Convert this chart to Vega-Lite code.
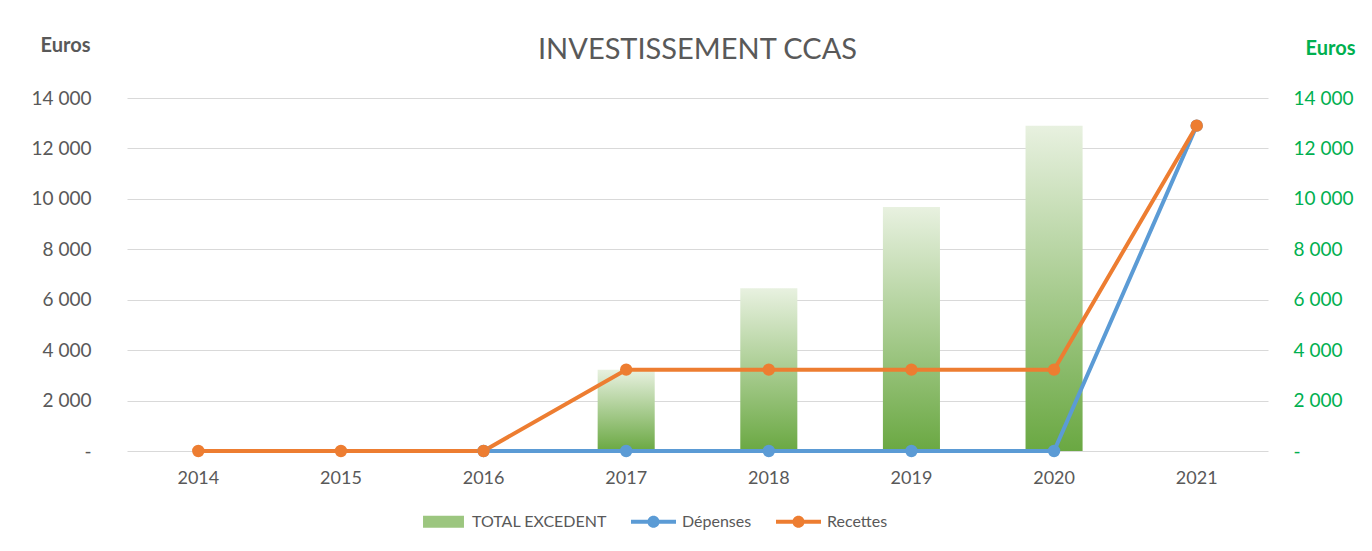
{
  "$schema": "https://vega.github.io/schema/vega-lite/v6.json",
  "width": 1141,
  "height": 353,
  "autosize": {"type": "none"},
  "padding": {"left": 127, "top": 98, "right": 104, "bottom": 100},
  "background": "white",
  "title": {"text": "INVESTISSEMENT CCAS", "font": "Lato", "fontSize": 29, "fontWeight": "normal", "color": "#595959", "baseline": "alphabetic", "offset": -53, "anchor": "middle"},
  "data": {"values": [
    {"year": "2017", "series": "TOTAL EXCEDENT", "value": 3226},
    {"year": "2018", "series": "TOTAL EXCEDENT", "value": 6452},
    {"year": "2019", "series": "TOTAL EXCEDENT", "value": 9678},
    {"year": "2020", "series": "TOTAL EXCEDENT", "value": 12904},
    {"year": "2016", "series": "Dépenses", "value": 0},
    {"year": "2017", "series": "Dépenses", "value": 0},
    {"year": "2018", "series": "Dépenses", "value": 0},
    {"year": "2019", "series": "Dépenses", "value": 0},
    {"year": "2020", "series": "Dépenses", "value": 0},
    {"year": "2021", "series": "Dépenses", "value": 12904},
    {"year": "2014", "series": "Recettes", "value": 0},
    {"year": "2015", "series": "Recettes", "value": 0},
    {"year": "2016", "series": "Recettes", "value": 0},
    {"year": "2017", "series": "Recettes", "value": 3226},
    {"year": "2018", "series": "Recettes", "value": 3226},
    {"year": "2019", "series": "Recettes", "value": 3226},
    {"year": "2020", "series": "Recettes", "value": 3226},
    {"year": "2021", "series": "Recettes", "value": 12904}
  ]},
  "encoding": {
    "x": {
      "field": "year", "type": "ordinal",
      "scale": {"domain": ["2014","2015","2016","2017","2018","2019","2020","2021"], "paddingInner": 0.6, "paddingOuter": 0.3},
      "axis": {"title": null, "labelAngle": 0, "labelFont": "Lato", "labelFontSize": 18, "labelColor": "#595959", "labelPadding": 18, "ticks": false, "domain": false, "grid": false}
    }
  },
  "layer": [
    {
      "transform": [{"filter": "datum.series === 'TOTAL EXCEDENT'"}],
      "mark": {"type": "bar", "fill": {"gradient": "linear", "x1": 0, "y1": 0, "x2": 0, "y2": 1, "stops": [{"offset": 0, "color": "#E8F1E0"}, {"offset": 1, "color": "#6AA842"}]}},
      "encoding": {
        "y": {
          "field": "value", "type": "quantitative",
          "scale": {"domain": [0, 14000], "nice": false},
          "axis": {
            "orient": "left", "values": [0,2000,4000,6000,8000,10000,12000,14000],
            "labelExpr": "datum.value === 0 ? '-' : replace(format(datum.value, ','), ',', ' ')",
            "labelFont": "Lato", "labelFontSize": 19, "labelColor": "#595959", "labelPadding": 36,
            "ticks": false, "domain": false, "grid": true, "gridColor": "#D9D9D9", "gridWidth": 1,
            "title": "Euros", "titleAngle": 0, "titleX": -62, "titleY": -53, "titleAlign": "center", "titleBaseline": "middle",
            "titleFont": "Lato", "titleFontSize": 20, "titleFontWeight": "bold", "titleColor": "#595959"
          }
        }
      }
    },
    {
      "transform": [{"filter": "datum.series !== 'TOTAL EXCEDENT'"}],
      "mark": {"type": "line", "strokeWidth": 4, "point": {"filled": true, "size": 154, "opacity": 1}},
      "encoding": {
        "y": {
          "field": "value", "type": "quantitative",
          "scale": {"domain": [0, 14000], "nice": false},
          "axis": {
            "orient": "right", "values": [0,2000,4000,6000,8000,10000,12000,14000],
            "labelExpr": "datum.value === 0 ? '-' : replace(format(datum.value, ','), ',', ' ')",
            "labelFont": "Lato", "labelFontSize": 19, "labelColor": "#00B050", "labelPadding": 25,
            "ticks": false, "domain": false, "grid": false,
            "title": "Euros", "titleAngle": 0, "titleX": 62, "titleY": -50, "titleAlign": "center", "titleBaseline": "middle",
            "titleFont": "Lato", "titleFontSize": 20, "titleFontWeight": "bold", "titleColor": "#00B050"
          }
        },
        "color": {
          "field": "series", "type": "nominal",
          "scale": {"domain": ["TOTAL EXCEDENT", "Dépenses", "Recettes"], "range": ["#9CC67F", "#5B9BD5", "#ED7D31"]},
          "legend": {
            "orient": "none", "legendX": 294, "legendY": 401, "direction": "horizontal", "title": null,
            "labelFont": "Lato", "labelFontSize": 16, "labelColor": "#595959", "labelOffset": 6,
            "columnPadding": 24, "symbolSize": 2025,
            "encode": {
              "symbols": {
                "update": {
                  "shape": {"signal": "datum.value === 'TOTAL EXCEDENT' ? 'M-0.91,-0.27H0.91V0.27H-0.91Z' : 'M-1,-0.09H1V0.09H-1Z M0.27,0 A0.27,0.27 0 1,1 -0.27,0 A0.27,0.27 0 1,1 0.27,0 Z'"},
                  "fillOpacity": {"value": 1},
                  "opacity": {"value": 1},
                  "strokeWidth": {"value": 0}
                }
              }
            }
          }
        }
      }
    }
  ],
  "resolve": {"scale": {"y": "independent"}},
  "config": {"view": {"stroke": null}, "font": "Lato"}
}
